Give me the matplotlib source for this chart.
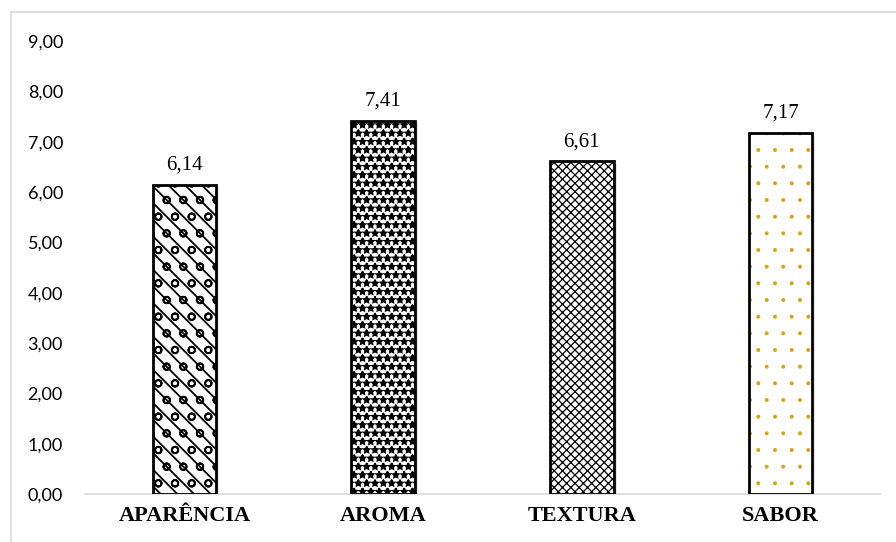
import matplotlib
matplotlib.use("Agg")
import matplotlib.pyplot as plt
from matplotlib.patches import Rectangle

# médias das notas por atributo sensorial
atributos = ["APARÊNCIA", "AROMA", "TEXTURA", "SABOR"]
medias = [6.14, 7.41, 6.61, 7.17]
padroes = ["\\\\o", "**", "xxxx", "."]
cor_padrao = ["black", "black", "black", "#d4a017"]
espessura_padrao = [1.3, 1.3, 0.9, 0.4]
marcas_y = [0, 1, 2, 3, 4, 5, 6, 7, 8, 9]

def fmt(v):
    return f"{v:.2f}".replace(".", ",")

fig = plt.figure(figsize=(8.96, 5.42), dpi=100)
ax = fig.add_axes([0.095, 0.0886, 0.887, 0.8358])

# moldura da área do gráfico
fig.patches.append(Rectangle((11 / 896, -0.1), 1.2, 1.1 - 12 / 542,
                             transform=fig.transFigure, fill=False,
                             edgecolor="#d9d9d9", linewidth=1.2))

larg = 0.32
for i, v in enumerate(medias):
    # sombra leve à direita
    ax.bar(i + 0.016, v - 0.05, width=larg, color="#cccccc", alpha=0.45,
           linewidth=0, zorder=1)
    plt.rcParams["hatch.linewidth"] = espessura_padrao[i]
    ax.bar(i, v, width=larg, color="white", edgecolor=cor_padrao[i],
           hatch=padroes[i], linewidth=0, zorder=2)
    # contorno preto
    ax.bar(i, v, width=larg, fill=False, edgecolor="black", linewidth=2,
           zorder=3)
    ax.text(i, v + 0.2, fmt(v), ha="center", va="bottom",
            family="Liberation Serif", fontsize=15)

ax.set_xlim(-0.5, len(atributos) - 0.5)
ax.set_ylim(0, 9)
ax.set_yticks(marcas_y)
ax.set_yticklabels([fmt(m) for m in marcas_y], family="Lato", fontsize=13)
ax.set_xticks(range(len(atributos)))
ax.set_xticklabels(atributos, family="Liberation Serif", fontweight="bold", fontsize=16)

for s in ["top", "right", "left"]:
    ax.spines[s].set_visible(False)
ax.spines["bottom"].set_color("#d9d9d9")
ax.spines["bottom"].set_linewidth(1.2)
ax.tick_params(axis="both", length=0)
ax.tick_params(axis="y", pad=16)
ax.tick_params(axis="x", pad=9)

fig.savefig("out.png", dpi=100)
